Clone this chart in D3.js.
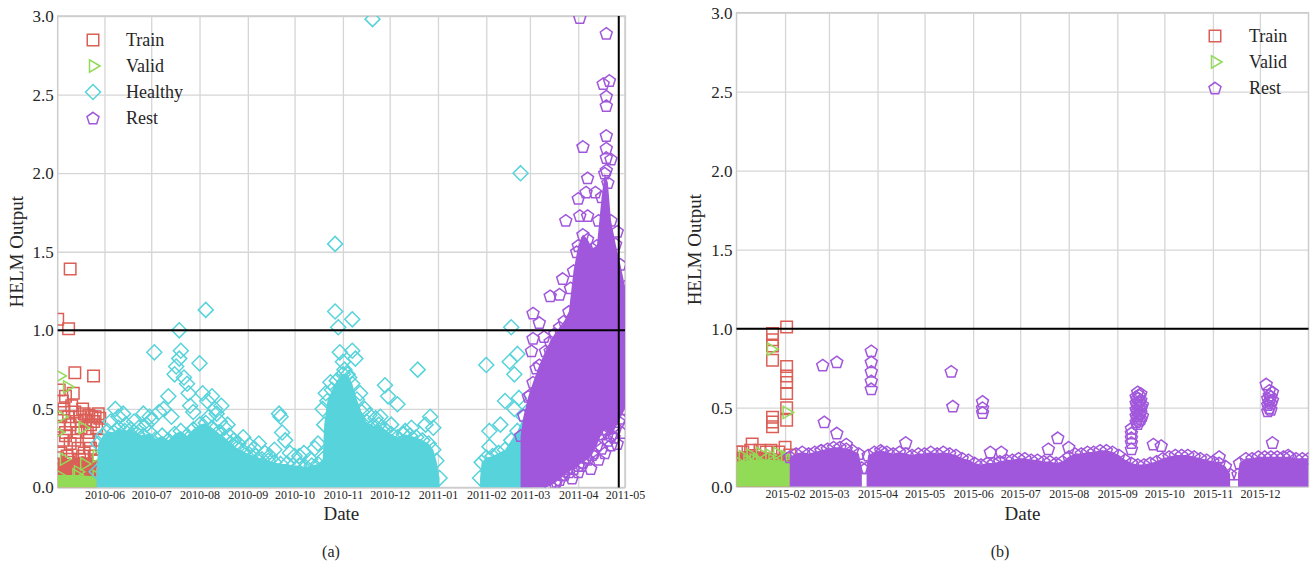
<!DOCTYPE html>
<html>
<head>
<meta charset="utf-8">
<script src="https://cdn.jsdelivr.net/npm/d3@7"></script>
<style>
body { margin: 0; background: #fff; }
svg { font-family: "Liberation Serif", "Times New Roman", serif; }
</style>
</head>
<body>
<svg id="chart" width="1312" height="567"></svg>
<script>
// values, [date, HELM output]

let yTicks = [0, 0.5, 1.0, 1.5, 2.0, 2.5, 3.0];
let leftTicks = ["2010-06-01","2010-07-01","2010-08-01","2010-09-01","2010-10-01","2010-11-01",
  "2010-12-01","2011-01-01","2011-02-01","2011-03-01","2011-04-01","2011-05-01"];
let rightTicks = ["2015-02-01","2015-03-01","2015-04-01","2015-05-01","2015-06-01","2015-07-01",
  "2015-08-01","2015-09-01","2015-10-01","2015-11-01","2015-12-01"];

// ---- panel (a) ----
let trainBandA = [["2010-05-02",0.19],["2010-05-10",0.18],["2010-05-18",0.2],["2010-05-27",0.17]];
let trainA = [["2010-05-02",1.07],["2010-05-09",1.01],["2010-05-10",1.39],["2010-05-13",0.73],["2010-05-25",0.71],
  ["2010-05-03",0.62],["2010-05-05",0.55],["2010-05-06",0.50],["2010-05-07",0.58],["2010-05-09",0.45],
  ["2010-05-10",0.40],["2010-05-11",0.52],["2010-05-13",0.48],["2010-05-14",0.42],["2010-05-15",0.35],
  ["2010-05-16",0.45],["2010-05-18",0.50],["2010-05-19",0.47],["2010-05-20",0.43],["2010-05-22",0.46],
  ["2010-05-23",0.40],["2010-05-24",0.45],["2010-05-25",0.42],["2010-05-27",0.38],["2010-05-28",0.47],
  ["2010-05-29",0.44],["2010-05-05",0.30],["2010-05-07",0.33],["2010-05-10",0.28],["2010-05-13",0.30],
  ["2010-05-15",0.25],["2010-05-19",0.22],["2010-05-23",0.25],["2010-05-26",0.20],["2010-05-03",0.15],
  ["2010-05-06",0.12],["2010-05-09",0.16],["2010-05-11",0.14],["2010-05-14",0.11],["2010-05-16",0.18],
  ["2010-05-20",0.15],["2010-05-24",0.13],["2010-05-28",0.17],["2010-05-03",0.39],["2010-05-07",0.35],
  ["2010-05-22",0.30],["2010-05-29",0.30],["2010-05-04",0.45],["2010-05-12",0.60],["2010-05-17",0.38],
  ["2010-05-21",0.35],["2010-05-26",0.45],["2010-05-04",0.22],["2010-05-08",0.20]];

let validBandA = [["2010-05-02",0.08],["2010-05-14",0.08],["2010-05-27",0.07]];
let validA = [["2010-05-03",0.71],["2010-05-08",0.64],["2010-05-04",0.45],["2010-05-18",0.38],
  ["2010-05-27",0.20],["2010-05-19",0.15],["2010-05-15",0.10],["2010-05-06",0.18],["2010-05-02",0.35]];

let healthyBandA = [
  [["2010-05-27",0.10],["2010-05-28",0.28],["2010-05-31",0.33],["2010-06-03",0.36],["2010-06-07",0.35],
   ["2010-06-10",0.38],["2010-06-14",0.36],["2010-06-18",0.37],["2010-06-22",0.34],["2010-06-26",0.33],
   ["2010-06-30",0.35],["2010-07-04",0.31],["2010-07-08",0.33],["2010-07-12",0.30],["2010-07-16",0.34],
   ["2010-07-20",0.36],["2010-07-24",0.33],["2010-07-28",0.37],["2010-08-01",0.40],["2010-08-05",0.41],
   ["2010-08-09",0.38],["2010-08-13",0.35],["2010-08-17",0.31],["2010-08-21",0.28],["2010-08-25",0.25],
   ["2010-08-29",0.23],["2010-09-02",0.21],["2010-09-06",0.20],["2010-09-10",0.18],["2010-09-14",0.17],
   ["2010-09-18",0.16],["2010-09-22",0.15],["2010-09-26",0.15],["2010-09-30",0.14],["2010-10-04",0.14],
   ["2010-10-08",0.13],["2010-10-12",0.14],["2010-10-16",0.15],["2010-10-19",0.18],["2010-10-20",0.40],
   ["2010-10-22",0.55],["2010-10-25",0.62],["2010-10-28",0.68],["2010-11-01",0.72],["2010-11-04",0.72],
   ["2010-11-07",0.66],["2010-11-10",0.56],["2010-11-13",0.48],["2010-11-16",0.42],["2010-11-20",0.39],
   ["2010-11-24",0.40],["2010-11-28",0.37],["2010-12-02",0.34],["2010-12-06",0.32],["2010-12-10",0.34],
   ["2010-12-14",0.33],["2010-12-18",0.32],["2010-12-22",0.30],["2010-12-26",0.28],["2010-12-29",0.24],
   ["2010-12-31",0.17],["2011-01-02",0.06]],
  [["2011-01-28",0.06],["2011-01-29",0.16],["2011-02-01",0.19],["2011-02-05",0.20],["2011-02-09",0.22],
   ["2011-02-13",0.24],["2011-02-17",0.30],["2011-02-21",0.36],["2011-02-25",0.45],["2011-03-01",0.50]]
];
let healthyA = [["2010-06-05",0.42],["2010-06-10",0.45],["2010-06-15",0.40],["2010-06-20",0.42],["2010-06-23",0.38],
  ["2010-06-26",0.47],["2010-06-30",0.45],["2010-07-03",0.86],["2010-07-06",0.48],["2010-07-09",0.50],
  ["2010-07-12",0.58],["2010-07-16",0.72],["2010-07-17",0.77],["2010-07-19",0.82],["2010-07-20",0.87],
  ["2010-07-19",1.00],["2010-07-22",0.70],["2010-07-24",0.66],["2010-07-25",0.60],["2010-07-26",0.52],
  ["2010-08-01",0.79],["2010-08-03",0.60],["2010-08-05",1.13],["2010-08-06",0.55],["2010-08-09",0.58],
  ["2010-08-11",0.50],["2010-08-07",0.45],["2010-08-14",0.42],["2010-08-17",0.38],["2010-08-20",0.33],
  ["2010-08-23",0.30],["2010-08-26",0.28],["2010-09-02",0.27],["2010-09-05",0.25],["2010-09-12",0.22],
  ["2010-09-15",0.20],["2010-09-21",0.47],["2010-09-22",0.45],["2010-09-23",0.35],["2010-09-25",0.30],
  ["2010-09-28",0.22],["2010-10-04",0.20],["2010-10-07",0.22],["2010-10-11",0.18],["2010-10-14",0.25],
  ["2010-10-19",0.50],["2010-10-21",0.60],["2010-10-24",0.67],["2010-10-27",1.55],["2010-10-27",1.12],
  ["2010-10-29",1.02],["2010-10-30",0.86],["2010-11-01",0.80],["2010-11-02",0.75],["2010-11-05",0.70],
  ["2010-11-07",1.07],["2010-11-07",0.87],["2010-11-09",0.82],["2010-11-12",0.60],["2010-11-15",0.50],
  ["2010-11-18",0.46],["2010-11-20",2.98],["2010-11-22",0.44],["2010-11-25",0.45],["2010-11-28",0.65],
  ["2010-11-30",0.58],["2010-12-02",0.40],["2010-12-06",0.53],["2010-12-11",0.36],["2010-12-15",0.38],
  ["2010-12-19",0.75],["2010-12-24",0.40],["2010-12-27",0.45],["2010-12-29",0.38],
  ["2010-06-08",0.50],["2010-06-13",0.47],["2010-06-28",0.40],["2010-07-01",0.43],["2010-07-14",0.45],
  ["2010-07-28",0.48],["2010-08-12",0.47],["2010-08-15",0.52],["2010-08-19",0.40],["2010-08-29",0.32],
  ["2010-09-08",0.28],["2010-09-18",0.24],["2010-10-01",0.20],["2010-10-16",0.28],
  ["2011-02-03",0.36],["2011-02-03",0.26],["2011-02-01",0.78],["2011-02-10",0.40],["2011-02-13",0.55],
  ["2011-02-16",0.80],["2011-02-17",1.02],["2011-02-19",0.72],["2011-02-21",0.85],["2011-02-23",2.00],
  ["2011-02-22",0.57],["2011-02-19",0.50]];

// dense part of "Rest": [date, lower edge, upper edge]
let restBandA = [["2011-02-23",0,0.33],["2011-02-25",0,0.46],["2011-02-28",0,0.58],["2011-03-03",0,0.67],
  ["2011-03-07",0,0.78],["2011-03-11",0,0.87],["2011-03-14",0.01,0.93],["2011-03-17",0.03,0.98],
  ["2011-03-20",0.05,1.02],["2011-03-23",0.08,1.06],["2011-03-26",0.10,1.12],["2011-03-29",0.12,1.38],
  ["2011-04-01",0.14,1.54],["2011-04-04",0.16,1.61],["2011-04-07",0.18,1.58],["2011-04-10",0.21,1.52],
  ["2011-04-13",0.27,1.54],["2011-04-16",0.34,1.85],["2011-04-18",0.37,2.00],["2011-04-20",0.35,1.94],
  ["2011-04-22",0.33,1.70],["2011-04-25",0.38,1.55],["2011-04-28",0.44,1.42],["2011-05-01",0.50,1.28]];
let restA = [["2011-04-02",2.99],["2011-04-19",2.89],["2011-04-17",2.57],["2011-04-21",2.59],["2011-04-19",2.49],
  ["2011-04-19",2.43],["2011-04-19",2.24],["2011-04-19",2.16],["2011-04-19",2.10],["2011-04-19",2.02],
  ["2011-04-04",2.17],["2011-04-22",2.09],["2011-04-07",1.97],["2011-04-06",1.88],["2011-04-12",1.88],
  ["2011-04-01",1.84],["2011-03-24",1.70],["2011-04-02",1.73],["2011-04-07",1.73],["2011-04-14",1.70],
  ["2011-04-26",1.63],["2011-03-22",1.33],["2011-03-14",1.22],["2011-03-20",1.23],["2011-03-27",1.27],
  ["2011-03-03",1.11],["2011-03-07",1.05],["2011-03-03",0.95],["2011-03-10",0.96],["2011-03-02",0.87],
  ["2011-03-05",0.76],["2011-03-01",0.59],["2011-03-14",0.87],["2011-03-18",0.92],["2011-03-31",1.50],
  ["2011-04-09",1.38],["2011-04-29",1.15],["2011-04-28",0.95],
  ["2011-03-18",0.04],["2011-03-22",0.08],["2011-03-25",0.12],["2011-03-28",0.06],["2011-04-01",0.10],
  ["2011-04-03",0.14],["2011-04-06",0.19],["2011-04-09",0.12],["2011-04-11",0.22],["2011-04-14",0.18],
  ["2011-04-16",0.25],["2011-04-18",0.22],["2011-04-20",0.30],["2011-04-22",0.27],["2011-04-24",0.32],
  ["2011-04-26",0.28],["2011-04-27",0.42],["2011-04-29",0.35]];

// ---- panel (b) ----
let trainBandB = [["2015-01-01",0.22],["2015-01-10",0.23],["2015-01-20",0.22],["2015-02-04",0.20]];
let trainB = [["2015-01-24",0.97],["2015-01-24",0.93],["2015-01-24",0.89],["2015-02-02",1.01],["2015-01-24",0.80],
  ["2015-02-02",0.76],["2015-02-02",0.70],["2015-02-02",0.66],["2015-02-02",0.59],["2015-02-02",0.50],
  ["2015-02-02",0.42],["2015-01-24",0.44],["2015-01-24",0.41],["2015-01-24",0.38],["2015-01-11",0.27],
  ["2015-02-01",0.25],["2015-01-23",0.23],["2015-01-05",0.22],["2015-01-16",0.23],["2015-01-28",0.22]];
let validBandB = [["2015-01-01",0.16],["2015-01-12",0.17],["2015-01-24",0.17],["2015-02-04",0.16]];
let validB = [["2015-01-23",0.87],["2015-02-02",0.47],["2015-01-05",0.19],["2015-01-10",0.20],["2015-01-16",0.21],
  ["2015-01-22",0.20],["2015-01-27",0.21],["2015-02-01",0.19],["2015-01-08",0.16],["2015-01-14",0.17]];

let restBandB = [
  [["2015-02-04",0.19],["2015-02-08",0.21],["2015-02-12",0.22],["2015-02-16",0.21],["2015-02-20",0.22],
   ["2015-02-24",0.23],["2015-02-28",0.24],["2015-03-04",0.25],["2015-03-08",0.25],["2015-03-12",0.24],
   ["2015-03-16",0.23],["2015-03-20",0.21],["2015-03-22",0.12]],
  [["2015-03-25",0.12],["2015-03-26",0.20],["2015-03-30",0.22],["2015-04-03",0.23],["2015-04-07",0.22],
   ["2015-04-11",0.21],["2015-04-15",0.22],["2015-04-19",0.21],["2015-04-23",0.20],["2015-04-27",0.21],
   ["2015-05-01",0.21],["2015-05-05",0.22],["2015-05-09",0.21],["2015-05-13",0.22],["2015-05-17",0.21],
   ["2015-05-21",0.20],["2015-05-25",0.18],["2015-05-29",0.17],["2015-06-02",0.15],["2015-06-06",0.14],
   ["2015-06-10",0.15],["2015-06-14",0.15],["2015-06-18",0.16],["2015-06-22",0.17],["2015-06-26",0.17],
   ["2015-06-30",0.18],["2015-07-04",0.18],["2015-07-08",0.17],["2015-07-12",0.17],["2015-07-16",0.16],
   ["2015-07-20",0.16],["2015-07-24",0.15],["2015-07-28",0.16],["2015-08-01",0.19],["2015-08-05",0.21],
   ["2015-08-09",0.21],["2015-08-13",0.22],["2015-08-17",0.22],["2015-08-21",0.23],["2015-08-25",0.23],
   ["2015-08-29",0.22],["2015-09-02",0.20],["2015-09-06",0.17],["2015-09-10",0.15],["2015-09-14",0.14],
   ["2015-09-18",0.14],["2015-09-22",0.15],["2015-09-26",0.16],["2015-09-30",0.18],["2015-10-04",0.19],
   ["2015-10-08",0.20],["2015-10-12",0.20],["2015-10-16",0.20],["2015-10-20",0.19],["2015-10-24",0.18],
   ["2015-10-28",0.17],["2015-11-01",0.16],["2015-11-05",0.15],["2015-11-09",0.13],["2015-11-12",0.08]],
  [["2015-11-17",0.08],["2015-11-18",0.15],["2015-11-22",0.18],["2015-11-26",0.18],["2015-11-30",0.19],
   ["2015-12-04",0.19],["2015-12-08",0.19],["2015-12-12",0.19],["2015-12-16",0.19],["2015-12-20",0.19],
   ["2015-12-24",0.18],["2015-12-28",0.18],["2016-01-01",0.18]]
];
let restB = [["2015-02-25",0.77],["2015-03-06",0.79],["2015-02-26",0.41],["2015-03-06",0.34],["2015-03-28",0.86],
  ["2015-03-28",0.79],["2015-03-28",0.73],["2015-03-28",0.67],["2015-03-28",0.62],["2015-05-18",0.73],
  ["2015-05-19",0.51],["2015-06-07",0.54],["2015-06-07",0.50],["2015-06-07",0.47],["2015-07-25",0.31],
  ["2015-04-19",0.28],["2015-09-24",0.27],["2015-12-09",0.28],["2015-02-24",0.23],["2015-06-12",0.22],
  ["2015-11-05",0.19],["2015-12-19",0.20],["2015-06-19",0.22],["2015-07-19",0.24],["2015-08-01",0.25],
  ["2015-09-29",0.26],["2015-03-12",0.27],["2015-04-04",0.22],
  ["2015-09-10",0.24],["2015-09-10",0.28],["2015-09-10",0.31],["2015-09-10",0.34],["2015-09-10",0.37],
  ["2015-09-13",0.41],["2015-09-13",0.45],["2015-09-13",0.49],["2015-09-13",0.53],["2015-09-13",0.57],
  ["2015-09-14",0.40],["2015-09-14",0.44],["2015-09-14",0.48],["2015-09-14",0.52],["2015-09-14",0.56],
  ["2015-09-14",0.60],["2015-09-15",0.42],["2015-09-15",0.46],["2015-09-15",0.50],["2015-09-15",0.54],
  ["2015-09-15",0.58],["2015-09-16",0.43],["2015-09-16",0.47],["2015-09-16",0.51],["2015-09-16",0.55],
  ["2015-09-16",0.59],["2015-09-17",0.45],["2015-09-17",0.52],
  ["2015-12-05",0.65],["2015-12-06",0.48],["2015-12-06",0.52],["2015-12-06",0.56],["2015-12-07",0.50],
  ["2015-12-07",0.54],["2015-12-07",0.58],["2015-12-07",0.61],["2015-12-08",0.49],["2015-12-08",0.53],
  ["2015-12-08",0.57],["2015-12-09",0.55],["2015-12-09",0.60]];

let parse = d3.utcParse("%Y-%m-%d");
let colors = {train: "#db5f57", valid: "#91db57", healthy: "#57d3db", rest: "#a157db"};
let textColor = "#262626";
let gridColor = "#d6d6d6";

function markerPath(type) {
  let p = d3.path();
  if (type == "square") {
    p.rect(-5.75, -5.75, 11.5, 11.5);
  } else if (type == "tri") {
    p.moveTo(7, 0); p.lineTo(-3.5, -6.1); p.lineTo(-3.5, 6.1); p.closePath();
  } else if (type == "diamond") {
    p.moveTo(0, -7.5); p.lineTo(7.5, 0); p.lineTo(0, 7.5); p.lineTo(-7.5, 0); p.closePath();
  } else {
    // pentagon
    for (let k = 0; k < 5; k++) {
      let a = -Math.PI / 2 + k * 2 * Math.PI / 5;
      let px = 6.3 * Math.cos(a), py = 6.3 * Math.sin(a) + 0.6;
      if (k == 0) p.moveTo(px, py); else p.lineTo(px, py);
    }
    p.closePath();
  }
  return p.toString();
}

function drawMarkers(parent, data, x, y, grp, yAt) {
  parent.append("g").selectAll("path").data(data).join("path")
    .attr("d", markerPath(grp.marker))
    .attr("transform", d => `translate(${x(parse(d[0]))},${y(yAt(d))})`)
    .attr("fill", "none")
    .attr("stroke", grp.color)
    .attr("stroke-width", 1.5);
}

function drawPanel(svg, cfg) {
  let x = d3.scaleUtc().domain(cfg.domain.map(parse)).range([cfg.left, cfg.right]);
  let y = d3.scaleLinear().domain([0, 3]).range([cfg.bottom, cfg.top]);
  let w = cfg.right - cfg.left, h = cfg.bottom - cfg.top;
  let g = svg.append("g");

  svg.append("clipPath").attr("id", "clip-" + cfg.name)
    .append("rect").attr("x", cfg.left).attr("y", cfg.top).attr("width", w).attr("height", h);

  // grid
  g.append("g").attr("transform", `translate(0,${cfg.bottom})`)
    .call(d3.axisBottom(x).tickValues(cfg.ticks.map(parse)).tickSize(-h).tickFormat(""))
    .call(a => a.select(".domain").remove())
    .selectAll("line").attr("stroke", gridColor).attr("stroke-width", 1.3);
  g.append("g").attr("transform", `translate(${cfg.left},0)`)
    .call(d3.axisLeft(y).tickValues(yTicks).tickSize(-w).tickFormat(""))
    .call(a => a.select(".domain").remove())
    .selectAll("line").attr("stroke", gridColor).attr("stroke-width", 1.3);

  g.append("rect").attr("x", cfg.left).attr("y", cfg.top).attr("width", w).attr("height", h)
    .attr("fill", "none").attr("stroke", "#cccccc").attr("stroke-width", 1.5);

  // points
  let plot = g.append("g").attr("clip-path", `url(#clip-${cfg.name})`);
  cfg.groups.forEach(grp => {
    (grp.bands || []).forEach(seg => {
      let area = d3.area()
        .x(d => x(parse(d[0])))
        .y0(d => y(d.length > 2 ? d[1] : 0))
        .y1(d => y(d[d.length - 1]));
      plot.append("path").datum(seg).attr("d", area).attr("fill", grp.color);
      drawMarkers(plot, seg, x, y, grp, d => d[d.length - 1]);
      drawMarkers(plot, seg.filter(d => d.length > 2 && d[1] > 0), x, y, grp, d => d[1]);
    });
    drawMarkers(plot, grp.points, x, y, grp, d => d[1]);
  });

  // threshold lines
  g.append("line").attr("x1", cfg.left).attr("x2", cfg.right).attr("y1", y(1)).attr("y2", y(1))
    .attr("stroke", "#000").attr("stroke-width", 2);
  if (cfg.vline) {
    let vx = x(parse(cfg.vline));
    g.append("line").attr("x1", vx).attr("x2", vx).attr("y1", cfg.top).attr("y2", cfg.bottom)
      .attr("stroke", "#000").attr("stroke-width", 2);
  }

  // tick labels
  g.append("g").attr("transform", `translate(0,${cfg.bottom})`)
    .call(d3.axisBottom(x).tickValues(cfg.ticks.map(parse)).tickSize(0).tickPadding(3)
      .tickFormat(d3.utcFormat("%Y-%m")))
    .call(a => a.select(".domain").remove())
    .selectAll("text").attr("font-size", 12).attr("fill", textColor);
  g.append("g").attr("transform", `translate(${cfg.left},0)`)
    .call(d3.axisLeft(y).tickValues(yTicks).tickSize(0).tickPadding(4).tickFormat(d3.format(".1f")))
    .call(a => a.select(".domain").remove())
    .selectAll("text").attr("font-size", 17).attr("fill", textColor);
  g.selectAll("g").attr("font-family", null);

  g.append("text").attr("x", cfg.left + w / 2).attr("y", 520).attr("text-anchor", "middle")
    .attr("font-size", 19).attr("fill", textColor).text("Date");
  g.append("text").attr("transform", `translate(${cfg.ylabelX},${cfg.top + h / 2}) rotate(-90)`)
    .attr("text-anchor", "middle").attr("font-size", 19).attr("fill", textColor).text("HELM Output");
  g.append("text").attr("x", cfg.captionX).attr("y", 557).attr("text-anchor", "middle")
    .attr("font-size", 16).attr("fill", textColor).text(cfg.caption);

  // legend
  cfg.groups.forEach((grp, i) => {
    let ly = cfg.legend.y + i * 26;
    g.append("path").attr("d", markerPath(grp.marker))
      .attr("transform", `translate(${cfg.legend.x},${ly})`)
      .attr("fill", "none").attr("stroke", grp.color).attr("stroke-width", 1.5);
    g.append("text").attr("x", cfg.legend.tx).attr("y", ly + 6)
      .attr("font-size", 18).attr("fill", textColor).text(grp.label);
  });
}

let svg = d3.select("#chart");

drawPanel(svg, {
  name: "a", left: 57.7, right: 625, top: 16, bottom: 487.5,
  domain: ["2010-05-02", "2011-05-01"], ticks: leftTicks, vline: "2011-04-27",
  ylabelX: 23, caption: "(a)", captionX: 331,
  legend: {x: 93, y: 40, tx: 126},
  groups: [
    {label: "Train", color: colors.train, marker: "square", points: trainA, bands: [trainBandA]},
    {label: "Valid", color: colors.valid, marker: "tri", points: validA, bands: [validBandA]},
    {label: "Healthy", color: colors.healthy, marker: "diamond", points: healthyA, bands: healthyBandA},
    {label: "Rest", color: colors.rest, marker: "pent", points: restA, bands: [restBandA]}
  ]
});

drawPanel(svg, {
  name: "b", left: 736.5, right: 1308.5, top: 12.7, bottom: 486.7,
  domain: ["2015-01-01", "2016-01-01"], ticks: rightTicks,
  ylabelX: 701, caption: "(b)", captionX: 1000,
  legend: {x: 1215, y: 36, tx: 1249},
  groups: [
    {label: "Train", color: colors.train, marker: "square", points: trainB, bands: [trainBandB]},
    {label: "Valid", color: colors.valid, marker: "tri", points: validB, bands: [validBandB]},
    {label: "Rest", color: colors.rest, marker: "pent", points: restB, bands: restBandB}
  ]
});
</script>
</body>
</html>
